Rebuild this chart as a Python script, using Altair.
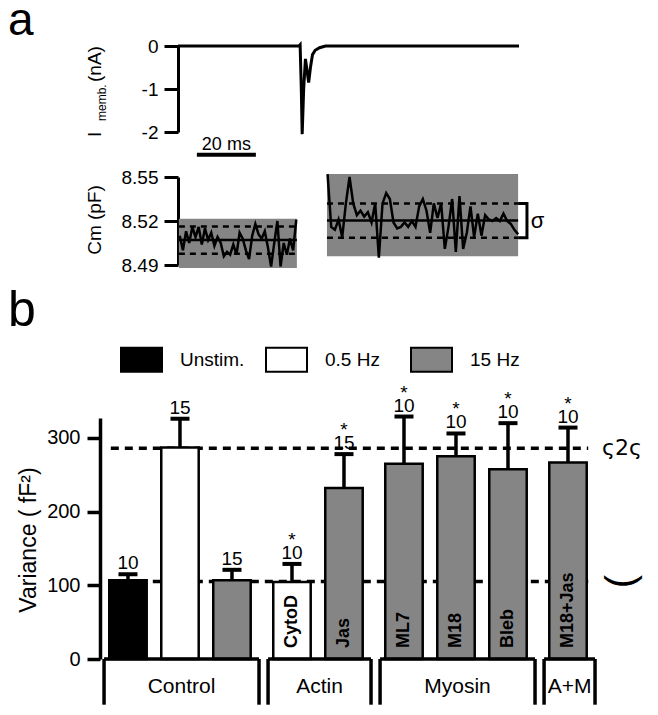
import altair as alt
import numpy as np
import pandas as pd

FONT = "Liberation Sans"
GRAY = "#858585"

# ---------------- panel a: membrane current ----------------
current_time_ms = [0, 41.0, 41.4, 41.8, 42.1, 42.6, 43.2, 43.7, 44.3, 44.9, 45.6, 46.5, 48.0, 50.0, 115.6]
current_nA = [0, 0, 0.03, -1.0, -2.05, -1.0, -0.3, -0.55, -0.85, -0.5, -0.2, -0.1, -0.04, 0, 0]
scalebar_ms = [6.4, 26.4]
scalebar_label = "20 ms"

# ---------------- panel a: membrane capacitance ----------------
cm_before_pF = [8.510, 8.500, 8.513, 8.505, 8.516, 8.509, 8.516, 8.504, 8.515, 8.507,
                8.512, 8.503, 8.509, 8.505, 8.496, 8.499, 8.497, 8.504, 8.497, 8.512,
                8.508, 8.500, 8.494, 8.510, 8.518, 8.511, 8.508, 8.513, 8.502, 8.489,
                8.505, 8.520, 8.489, 8.505, 8.497, 8.508, 8.500, 8.521]
cm_after_pF = [8.552, 8.516, 8.514, 8.521, 8.509, 8.532, 8.550, 8.532, 8.524, 8.527,
               8.523, 8.526, 8.519, 8.532, 8.495, 8.532, 8.539, 8.535, 8.519, 8.515,
               8.516, 8.519, 8.516, 8.520, 8.516, 8.530, 8.535, 8.527, 8.512, 8.532,
               8.522, 8.532, 8.501, 8.516, 8.535, 8.499, 8.537, 8.501, 8.512, 8.530,
               8.509, 8.525, 8.510, 8.524, 8.521, 8.520, 8.522, 8.520, 8.525, 8.520,
               8.518, 8.514, 8.511]
segments = ["before", "after"]
window_ms = [[0.6, 40.1], [50.7, 115.3]]
box_ms = [[0.3, 40.3], [50.5, 115.3]]
box_pF = [[8.488, 8.5215], [8.496, 8.552]]
mean_pF = [8.507, 8.5203]
sd_pF = [0.0093, 0.0117]

# ---------------- panel b: variance ----------------
conditions = ["Unstim.", "0.5 Hz", "15 Hz", "CytoD", "Jas", "ML7", "M18", "Bleb", "M18+Jas"]
stimulus = ["Unstim.", "0.5 Hz", "15 Hz", "0.5 Hz", "15 Hz", "15 Hz", "15 Hz", "15 Hz", "15 Hz"]
groups = ["Control", "Control", "Control", "Actin", "Actin", "Myosin", "Myosin", "Myosin", "A+M"]
group_order = ["Control", "Actin", "Myosin", "A+M"]
variance = [107, 287, 107, 104.5, 232, 265, 275, 257.5, 266.5]
sem = [8, 39, 14, 24.5, 46, 64, 31, 62.5, 47.5]
n_cells = [10, 15, 15, 10, 15, 10, 10, 10, 10]
significant = ["", "", "", "*", "*", "*", "*", "*", "*"]
bar_labels = ["", "", "", "CytoD", "Jas", "ML7", "M18", "Bleb", "M18+Jas"]
stim_levels = ["Unstim.", "0.5 Hz", "15 Hz"]
stim_colors = ["black", "white", GRAY]
ref_levels = [286, 105]
ref_marks = ["ς2ς", "("]

# ---------------- layout (page pixels) ----------------
X0, Y0 = 100, 8


def px(x):
    return x - X0


def py(y):
    return y - Y0


t_scale = alt.Scale(domain=[0, 115.6], range=[px(178), px(519)], nice=False, zero=False)
i_scale = alt.Scale(domain=[-2, 0], range=[py(132), py(46)], nice=False, zero=False)
cm_scale = alt.Scale(domain=[8.49, 8.55], range=[py(265), py(177)], nice=False, zero=False)
GAP = 8 / 52
slot_scale = alt.Scale(domain=[-0.538, 9.077], range=[0, 500], nice=False, zero=False)
var_scale = alt.Scale(domain=[0, 327], range=[py(659), py(418)], nice=False, zero=False)

axis_common = dict(orient="left", title=None, grid=False, domainColor="black", tickColor="black",
                   labelColor="black", labelFont=FONT)
axis_i = alt.Axis(values=[0, -1, -2], format=".0f",
                  labelExpr="replace(datum.label, '\u2212', '-')",
                  offset=-px(178), tickSize=14, tickWidth=3, domainWidth=3,
                  labelFontSize=19, labelPadding=6, labelOverlap=False, **axis_common)
axis_cm = alt.Axis(values=[8.49, 8.52, 8.55], format=".2f", offset=-px(178), tickSize=14, tickWidth=3,
                   domainWidth=3, labelFontSize=19, labelPadding=6, **axis_common)
axis_var = alt.Axis(values=[0, 100, 200, 300], tickSize=13, tickWidth=3.5, domainWidth=3.5,
                    labelFontSize=20, labelPadding=7, **axis_common)

# ---------------- panel a top ----------------
cur_df = pd.DataFrame({"t": current_time_ms, "i": current_nA})
cur_line = alt.Chart(cur_df).mark_line(color="black", strokeWidth=3).encode(
    x=alt.X("t:Q", scale=t_scale, axis=None),
    y=alt.Y("i:Q", scale=i_scale, axis=axis_i),
)
sb_df = pd.DataFrame({"t0": [scalebar_ms[0]], "t1": [scalebar_ms[1]],
                      "tm": [sum(scalebar_ms) / 2], "label": [scalebar_label]})
sb_rule = alt.Chart(sb_df).mark_rule(color="black", strokeWidth=4).encode(
    x=alt.X("t0:Q", scale=t_scale, axis=None), x2="t1:Q",
    y=alt.Y(datum=-2.53, scale=i_scale, axis=axis_i),
)
sb_text = alt.Chart(sb_df).mark_text(fontSize=18, font=FONT, baseline="alphabetic", color="black").encode(
    x=alt.X("tm:Q", scale=t_scale, axis=None),
    y=alt.Y(datum=-2.41, scale=i_scale, axis=axis_i),
    text="label:N",
)
panel_a_top = alt.layer(cur_line, sb_rule, sb_text)

# ---------------- panel a capacitance ----------------
trace_rows = []
for seg, vals, win in zip(segments, [cm_before_pF, cm_after_pF], window_ms):
    ts = np.linspace(win[0], win[1], len(vals))
    for t, v in zip(ts, vals):
        trace_rows.append({"seg": seg, "t": t, "cm": v})
trace_df = pd.DataFrame(trace_rows)

box_df = pd.DataFrame({
    "seg": segments,
    "t0": [b[0] for b in box_ms], "t1": [b[1] for b in box_ms],
    "lo": [b[0] for b in box_pF], "hi": [b[1] for b in box_pF],
    "mean": mean_pF,
    "sd_hi": [m + s for m, s in zip(mean_pF, sd_pF)],
    "sd_lo": [m - s for m, s in zip(mean_pF, sd_pF)],
})
box_x = alt.X("t0:Q", scale=t_scale, axis=None)
boxes = alt.Chart(box_df).mark_rect(fill=GRAY).encode(
    x=box_x, x2="t1:Q", y=alt.Y("lo:Q", scale=cm_scale, axis=axis_cm), y2="hi:Q")
cm_line = alt.Chart(trace_df).mark_line(color="black", strokeWidth=2.5).encode(
    x=alt.X("t:Q", scale=t_scale, axis=None),
    y=alt.Y("cm:Q", scale=cm_scale, axis=axis_cm),
    detail="seg:N",
)
mean_rule = alt.Chart(box_df).mark_rule(color="black", strokeWidth=2.5).encode(
    x=box_x, x2="t1:Q", y=alt.Y("mean:Q", scale=cm_scale, axis=axis_cm))
sd_rules = alt.Chart(box_df).transform_fold(["sd_hi", "sd_lo"], as_=["k", "v"]).mark_rule(
    color="black", strokeWidth=2.5, strokeDash=[6, 5]).encode(
    x=box_x, x2="t1:Q", y=alt.Y("v:Q", scale=cm_scale, axis=axis_cm))

bx0, bx1 = box_ms[1][1], box_ms[1][1] + 3.0
br_df = pd.DataFrame({"k": [0, 1, 2, 3], "t": [bx0, bx1, bx1, bx0],
                      "v": [mean_pF[1] + sd_pF[1]] * 2 + [mean_pF[1] - sd_pF[1]] * 2})
bracket = alt.Chart(br_df).mark_line(color="black", strokeWidth=3).encode(
    x=alt.X("t:Q", scale=t_scale, axis=None),
    y=alt.Y("v:Q", scale=cm_scale, axis=axis_cm), order="k:O")
sigma = alt.Chart(pd.DataFrame({"s": ["σ"]})).mark_text(
    fontSize=22, font=FONT, align="left", baseline="middle", color="black").encode(
    x=alt.X(datum=bx1 + 1.3, scale=t_scale, axis=None),
    y=alt.Y(datum=mean_pF[1], scale=cm_scale, axis=axis_cm), text="s:N")
panel_a_cm = alt.layer(boxes, cm_line, sd_rules, mean_rule, bracket, sigma)

# ---------------- panel b ----------------
gidx = [group_order.index(g) for g in groups]
slots = [i + GAP * g for i, g in enumerate(gidx)]
HALF = 0.36
bar_df = pd.DataFrame({
    "cond": conditions, "stim": stimulus, "group": groups, "slot": slots,
    "lo": [s - HALF for s in slots], "hi": [s + HALF for s in slots],
    "variance": variance, "upper": [v + e for v, e in zip(variance, sem)],
    "n": [str(n) for n in n_cells], "star": significant, "label": bar_labels,
})
sx = alt.X("slot:Q", scale=slot_scale, axis=None)

ref_df = pd.DataFrame({"level": ref_levels, "mark": ref_marks})
ref_lines = alt.Chart(ref_df).mark_rule(color="black", strokeWidth=3.5, strokeDash=[8, 6]).encode(
    x=alt.X(datum=-0.33, scale=slot_scale, axis=None), x2=alt.X2(datum=8.85),
    y=alt.Y("level:Q", scale=var_scale, axis=axis_var))

bars = alt.Chart(bar_df).mark_rect(stroke="black", strokeWidth=2.5).encode(
    x=alt.X("lo:Q", scale=slot_scale, axis=None), x2="hi:Q",
    y=alt.Y("variance:Q", scale=var_scale, axis=axis_var), y2=alt.Y2(datum=0),
    fill=alt.Fill("stim:N", scale=alt.Scale(domain=stim_levels, range=stim_colors),
                  legend=alt.Legend(title=None, orient="none", legendX=20, legendY=330,
                                    direction="horizontal", columns=3, gridAlign="all",
                                    symbolType="M-1,-0.585H1V0.585H-1Z", symbolSize=1681,
                                    symbolStrokeColor="black", symbolStrokeWidth=2,
                                    labelFontSize=19, labelFont=FONT, labelColor="black",
                                    labelOffset=17, columnPadding=17, padding=0)),
)
whisk = alt.Chart(bar_df).mark_rule(color="black", strokeWidth=3.5).encode(
    x=sx, y=alt.Y("variance:Q", scale=var_scale, axis=axis_var), y2="upper:Q")
caps = alt.Chart(bar_df).mark_tick(orient="horizontal", size=19, thickness=4, color="black", opacity=1).encode(
    x=sx, y=alt.Y("upper:Q", scale=var_scale, axis=axis_var))
n_text = alt.Chart(bar_df).mark_text(fontSize=19, font=FONT, dy=-5, baseline="alphabetic", color="black").encode(
    x=sx, y=alt.Y("upper:Q", scale=var_scale, axis=axis_var), text="n:N")
star_text = alt.Chart(bar_df).mark_text(fontSize=19, font=FONT, dy=-18, baseline="alphabetic", color="black").encode(
    x=sx, y=alt.Y("upper:Q", scale=var_scale, axis=axis_var), text="star:N")
inner_text = alt.Chart(bar_df).mark_text(fontSize=18, font=FONT, fontWeight="bold", angle=270, align="left",
                                         baseline="middle", color="black").encode(
    x=sx, y=alt.Y(datum=15, scale=var_scale, axis=axis_var), text="label:N")

grp_rows = []
for g in group_order:
    ss = [s for s, gg in zip(slots, groups) if gg == g]
    grp_rows.append({"group": g, "left": ss[0] - 0.46, "right": ss[-1] + 0.52,
                     "mid": (ss[0] - 0.46 + ss[-1] + 0.52) / 2})
grp_df = pd.DataFrame(grp_rows)
grp_h = alt.Chart(grp_df).mark_rule(color="black", strokeWidth=3.5).encode(
    x=alt.X("left:Q", scale=slot_scale, axis=None), x2="right:Q",
    y=alt.Y(datum=0, scale=var_scale, axis=axis_var))
grp_v = alt.Chart(grp_df).transform_fold(["left", "right"], as_=["side", "pos"]).mark_rule(
    color="black", strokeWidth=3.5).encode(
    x=alt.X("pos:Q", scale=slot_scale, axis=None),
    y=alt.Y(datum=0, scale=var_scale, axis=axis_var), y2=alt.Y2(datum=-62))
grp_text = alt.Chart(grp_df).mark_text(fontSize=21, font=FONT, baseline="middle", color="black").encode(
    x=alt.X("mid:Q", scale=slot_scale, axis=None),
    y=alt.Y(datum=-38, scale=var_scale, axis=axis_var), text="group:N")

ref_up = alt.Chart(ref_df.iloc[[0]]).mark_text(fontSize=22, font="DejaVu Sans", baseline="middle",
                                                color="black").encode(
    x=alt.X(datum=9.5, scale=slot_scale, axis=None),
    y=alt.Y("level:Q", scale=var_scale, axis=axis_var), text="mark:N")
ref_low = alt.Chart(ref_df.iloc[[1]]).mark_text(fontSize=40, font=FONT, angle=270, align="center",
                                                 baseline="middle", color="black").encode(
    x=alt.X(datum=9.5, scale=slot_scale, axis=None),
    y=alt.Y("level:Q", scale=var_scale, axis=axis_var), text="mark:N")

panel_b = alt.layer(ref_lines, bars, whisk, caps, n_text, star_text, inner_text,
                    grp_h, grp_v, grp_text, ref_up, ref_low)

# ---------------- free text: panel letters and axis titles ----------------
def label(text, x, y, size, angle=0, align="left", baseline="alphabetic", weight="normal"):
    return alt.Chart(pd.DataFrame({"s": [text]})).mark_text(
        fontSize=size, font=FONT, angle=angle, align=align, baseline=baseline,
        fontWeight=weight, color="black").encode(
        x=alt.value(px(x)), y=alt.value(py(y)), text="s:N")


texts = [
    label("a", 8, 35, 46),
    label("b", 8, 326, 50),
    label("I", 101, 137, 19, angle=270),
    label("memb.", 106, 121, 12, angle=270),
    label("(nA)", 101, 82, 19, angle=270),
    label("Cm (pF)", 101, 220, 19, angle=270, align="center"),
    label("Variance ( fF²)", 36, 540, 23, angle=270, align="center"),
]

chart = alt.layer(panel_a_top, panel_a_cm, panel_b, *texts).resolve_scale(
    x="independent", y="independent"
).properties(
    width=500, height=699,
    padding={"left": X0 - 8, "top": 0, "right": 50, "bottom": 0},
    autosize=alt.AutoSizeParams(type="none"),
).configure_view(stroke=None)

chart.save("out.html", embed_options={"renderer": "svg", "actions": False})
